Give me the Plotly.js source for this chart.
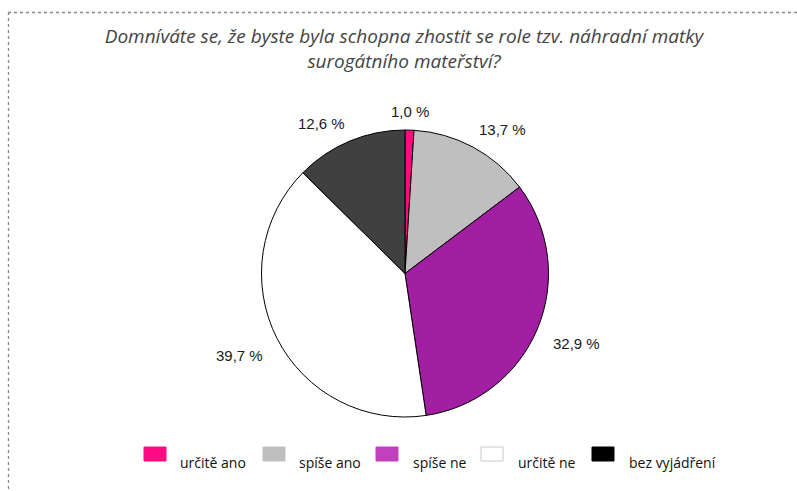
<!DOCTYPE html>
<html>
<head>
<meta charset="utf-8">
<script src="https://cdn.plot.ly/plotly-3.0.1.min.js"></script>
<style>html,body{margin:0;padding:0;background:#fff;}#chart{width:797px;height:491px;}</style>
</head>
<body>
<div id="chart"></div>
<script>
// Data
const categories = ["určitě ano", "spíše ano", "spíše ne", "určitě ne", "bez vyjádření"];
const values = [1.0, 13.7, 32.9, 39.7, 12.6];
const sliceColors = ["#FF0A80", "#BFBFBF", "#A21FA3", "#FFFFFF", "#404040"];
const legendColors = ["#FF0A80", "#BFBFBF", "#C040C0", "#FFFFFF", "#000000"];
const labelsText = values.map(v => v.toFixed(1).replace('.', ',') + ' %');
const titleText = "Domníváte se, že byste byla schopna zhostit se role tzv. náhradní matky<br>surogátního mateřství?";

const W = 797, H = 491;
const M = {l: 13, r: 0, t: 130, b: 74};
const pw = W - M.l - M.r, ph = H - M.t - M.b;
const px = x => (x - M.l) / pw;
const py = y => (H - M.b - y) / ph;

const shapes = [];
const annotations = [];

// data labels placed just outside each slice, at the slice's mid angle
const total = values.reduce((a, b) => a + b, 0);
const cx = M.l + pw / 2, cy = M.t + ph / 2, R = Math.min(pw, ph) / 2;
let cum = 0;
values.forEach((v, i) => {
  const mid = (cum + v / 2) / total * 2 * Math.PI;
  cum += v;
  const s = Math.sin(mid), c = Math.cos(mid);
  const r = R + (c < 0 ? 14 : 8);
  const x = cx + r * s, y = cy - r * c;
  annotations.push({xref: 'paper', yref: 'paper', x: px(x), y: py(y), showarrow: false,
    text: labelsText[i],
    xanchor: Math.abs(s) < 0.15 ? 'center' : (s > 0 ? 'left' : 'right'),
    yanchor: Math.abs(c) < 0.15 ? 'middle' : (c > 0 ? 'bottom' : 'top'),
    font: {family: 'Liberation Sans, Arial, sans-serif', size: 15, color: '#1a1a1a'}});
});

// legend layout (pixel positions)
const legSwatchX = [144, 263, 376, 481, 592];
const legTextX = [178, 297, 411, 516, 627];
categories.forEach((c, i) => {
  shapes.push({type: 'rect', xref: 'paper', yref: 'paper',
    x0: px(legSwatchX[i]), x1: px(legSwatchX[i] + 22),
    y0: py(447), y1: py(461),
    fillcolor: legendColors[i],
    line: {color: i === 3 ? '#C8C8C8' : legendColors[i], width: 1}});
  annotations.push({xref: 'paper', yref: 'paper', x: px(legTextX[i]), y: py(462),
    xanchor: 'left', yanchor: 'middle', showarrow: false, text: c,
    font: {family: 'Open Sans, sans-serif', size: 14, color: '#111'}});
});
// dotted frame
shapes.push({type: 'line', xref: 'paper', yref: 'paper', x0: px(8), x1: px(797), y0: py(12.5), y1: py(12.5),
  line: {color: '#8a8a8a', width: 1.3, dash: 'dot'}});
shapes.push({type: 'line', xref: 'paper', yref: 'paper', x0: px(8.5), x1: px(8.5), y0: py(12), y1: py(491),
  line: {color: '#8a8a8a', width: 1.3, dash: 'dot'}});

const data = [{
  type: 'pie',
  labels: categories,
  values: values,
  textinfo: 'none',
  sort: false,
  direction: 'clockwise',
  rotation: 0,
  hole: 0,
  marker: {colors: sliceColors, line: {color: '#000', width: 1}},
  showlegend: false,
  automargin: false
}];

const layout = {
  width: W, height: H,
  margin: M,
  paper_bgcolor: '#fff',
  showlegend: false,
  title: {text: titleText, x: 404 / W, xanchor: 'center', xref: 'container',
    y: 1 - 43 / H, yanchor: 'top', yref: 'container',
    font: {family: 'Open Sans, sans-serif', size: 19, style: 'italic', color: '#444'}},
  shapes: shapes,
  annotations: annotations
};

Plotly.newPlot('chart', data, layout, {displayModeBar: false, staticPlot: true});
</script>
</body>
</html>
